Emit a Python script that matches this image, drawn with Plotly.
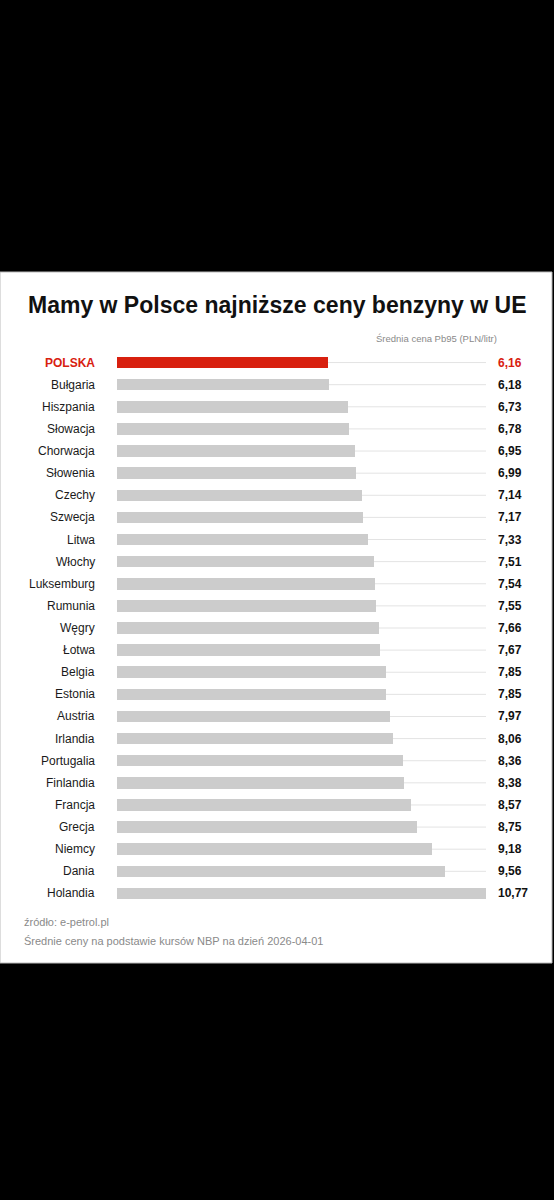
import plotly.graph_objects as go

# data
countries = ['POLSKA', 'Bułgaria', 'Hiszpania', 'Słowacja', 'Chorwacja', 'Słowenia',
             'Czechy', 'Szwecja', 'Litwa', 'Włochy', 'Luksemburg', 'Rumunia', 'Węgry',
             'Łotwa', 'Belgia', 'Estonia', 'Austria', 'Irlandia', 'Portugalia',
             'Finlandia', 'Francja', 'Grecja', 'Niemcy', 'Dania', 'Holandia']
prices = [6.16, 6.18, 6.73, 6.78, 6.95, 6.99, 7.14, 7.17, 7.33, 7.51, 7.54, 7.55,
          7.66, 7.67, 7.85, 7.85, 7.97, 8.06, 8.36, 8.38, 8.57, 8.75, 9.18, 9.56, 10.77]
highlight = 'POLSKA'

title = 'Mamy w Polsce najniższe ceny benzyny w UE'
subtitle = 'Średnia cena Pb95 (PLN/litr)'
source = 'źródło: e-petrol.pl'
note = 'Średnie ceny na podstawie kursów NBP na dzień 2026-04-01'

RED = '#d8200f'
GRAY = '#cccccc'
FONT = 'Liberation Sans'
W, H = 554, 1200

vmax = max(prices)
colors = [RED if c == highlight else GRAY for c in countries]

bars = go.Bar(x=prices, y=countries, orientation='h', marker=dict(color=colors, line=dict(width=0)),
              width=0.52, showlegend=False, hoverinfo='skip')
fig = go.Figure(data=[bars])

# white card on black background, then thin track lines behind each bar
shapes = [dict(type='rect', xref='paper', yref='paper', x0=0, x1=552 / W,
               y0=1 - 963 / H, y1=1 - 272 / H, fillcolor='white',
               line=dict(color='#bbbbbb', width=1), layer='below')]
for c in countries:
    shapes.append(dict(type='line', xref='x', yref='y', x0=0, x1=vmax, y0=c, y1=c,
                       line=dict(color='#e3e3e3', width=1), layer='below'))

annotations = []
for c, p in zip(countries, prices):
    is_hl = c == highlight
    annotations.append(dict(x=97 / W, xref='paper', y=c, yref='y', xanchor='right',
                            text='<b>' + c + '</b>' if is_hl else c, showarrow=False,
                            font=dict(family=FONT, size=12, color=RED if is_hl else '#1a1a1a')))
    annotations.append(dict(x=496 / W, xref='paper', y=c, yref='y', xanchor='left',
                            text='<b>' + ('%.2f' % p).replace('.', ',') + '</b>', showarrow=False,
                            font=dict(family=FONT, size=12, color=RED if is_hl else '#111111')))

annotations += [
    dict(x=0.5, y=1 - 305 / H, xref='paper', yref='paper', text='<b>' + title + '</b>',
         showarrow=False, xanchor='center', yanchor='middle',
         font=dict(family=FONT, size=23, color='#111111')),
    dict(x=499 / W, y=1 - 338 / H, xref='paper', yref='paper', text=subtitle,
         showarrow=False, xanchor='right', yanchor='middle',
         font=dict(family=FONT, size=9.5, color='#8a8a8a')),
    dict(x=22 / W, y=1 - 922 / H, xref='paper', yref='paper', text=source,
         showarrow=False, xanchor='left', yanchor='middle',
         font=dict(family=FONT, size=11, color='#8a8a8a')),
    dict(x=22 / W, y=1 - 941 / H, xref='paper', yref='paper', text=note,
         showarrow=False, xanchor='left', yanchor='middle',
         font=dict(family=FONT, size=11, color='#8a8a8a')),
]

row_top = 351.5
row_bot = 904.5
fig.update_layout(
    width=W, height=H,
    margin=dict(l=0, r=0, t=0, b=0),
    paper_bgcolor='black', plot_bgcolor='rgba(0,0,0,0)',
    xaxis=dict(range=[0, vmax], domain=[117 / W, 486 / W], visible=False, fixedrange=True),
    yaxis=dict(categoryorder='array', categoryarray=countries, autorange='reversed',
               domain=[1 - row_bot / H, 1 - row_top / H], visible=False, fixedrange=True),
    bargap=0,
    hovermode=False,
    shapes=shapes,
    annotations=annotations,
)

# drop the browser's default page margin so the figure fills the window
fig.write_html('out.html', config=dict(displayModeBar=False, staticPlot=True),
               post_script="document.body.style.margin='0';document.body.style.overflow='hidden';")
